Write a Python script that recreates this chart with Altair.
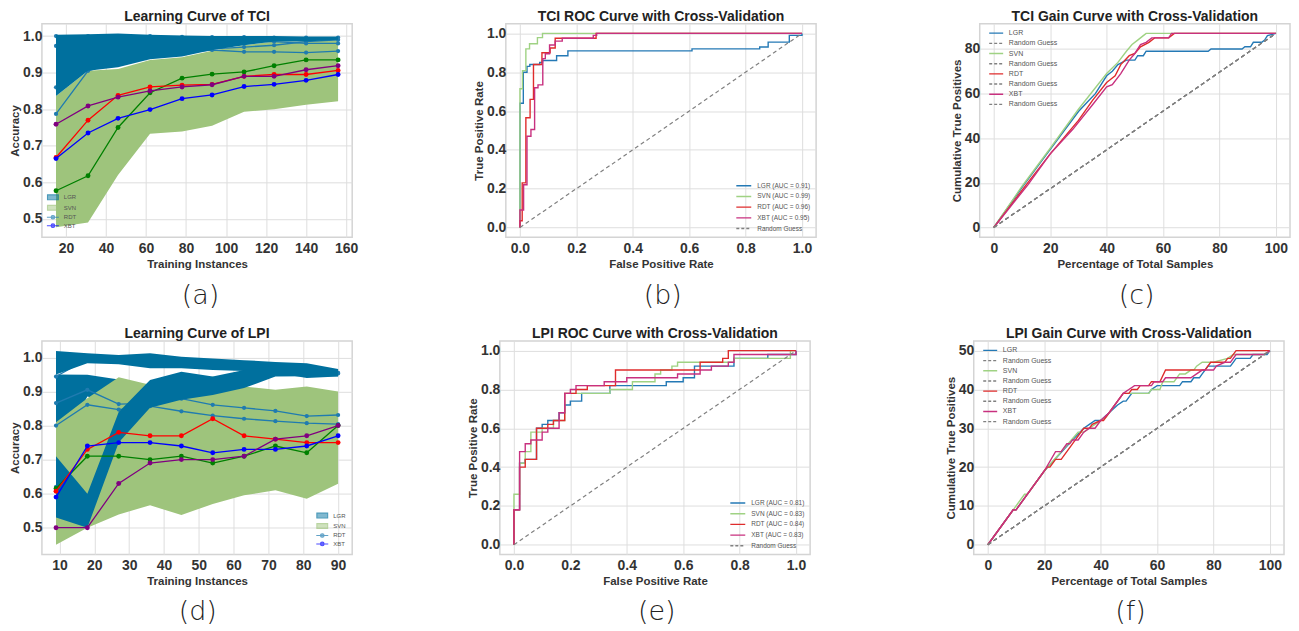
import altair as alt
import pandas as pd

FONT = "Liberation Sans"
CAP_FONT = "DejaVu Sans"

# ---------------- colours ----------------
BLUE_BAND = "#00709e"
GREEN_BAND = "#9ec47c"
TEAL = "#1f7bb0"
C_LGR = "#2479b5"
C_SVN = "#9fd283"
C_RDT = "#df2c2c"
C_XBT = "#c8307f"
GRAY = "#808080"

# ---------------- (a) Learning curve TCI ----------------
TCI_N = [15, 31, 46, 62, 78, 93, 109, 124, 140, 156]
TCI_GREEN_LO = [0.477, 0.49, 0.62, 0.733, 0.739, 0.755, 0.793, 0.80, 0.812, 0.822]
TCI_GREEN_HI = [0.836, 0.905, 0.91, 0.935, 0.942, 0.96, 0.975, 0.985, 0.985, 0.99]
TCI_BLUE_LO = [0.836, 0.905, 0.915, 0.937, 0.944, 0.962, 0.975, 0.985, 0.985, 0.99]
TCI_BLUE_HI = [1.004, 1.005, 1.007, 1.004, 1.002, 1.0, 1.0, 1.0, 0.999, 0.999]
TCI_T1 = [1.0, 1.0, 1.0, 1.0, 0.998, 0.997, 0.997, 0.996, 0.996, 0.996]
TCI_T2 = [0.973, 0.985, 0.99, 0.99, 0.99, 0.99, 0.985, 0.985, 0.98, 0.98]
TCI_T3 = [0.86, 0.93, 0.95, 0.96, 0.965, 0.965, 0.97, 0.975, 0.985, 0.99]
TCI_T4 = [0.787, 0.905, 0.93, 0.95, 0.955, 0.962, 0.957, 0.957, 0.955, 0.959]
TCI_V_GREEN = [0.577, 0.618, 0.750, 0.845, 0.885, 0.896, 0.902, 0.919, 0.935, 0.935]
TCI_V_RED = [0.668, 0.770, 0.838, 0.861, 0.866, 0.868, 0.890, 0.895, 0.895, 0.906]
TCI_V_PURPLE = [0.759, 0.809, 0.833, 0.850, 0.861, 0.867, 0.890, 0.890, 0.908, 0.919]
TCI_V_BLUE = [0.665, 0.735, 0.775, 0.799, 0.829, 0.839, 0.862, 0.868, 0.879, 0.895]

# ---------------- (d) Learning curve LPI ----------------
LPI_N = [9, 18, 27, 36, 45, 54, 63, 72, 81, 90]
LPI_GREEN_LO = [0.45, 0.50, 0.539, 0.566, 0.537, 0.57, 0.595, 0.61, 0.585, 0.629]
LPI_GREEN_HI = [0.81, 0.88, 0.942, 0.92, 0.91, 0.944, 0.915, 0.905, 0.915, 0.90]
LPI_C_N = [9, 18, 27]
LPI_C_LO = [0.71, 0.885, 0.862]
LPI_C_HI = [0.95, 0.949, 0.935]
LPI_TOP_LO = [0.95, 0.983, 0.98, 0.968, 0.968, 0.963, 0.96, 0.955, 0.94, 0.944]
LPI_TOP_HI = [1.019, 1.012, 1.007, 1.012, 1.002, 0.997, 0.992, 0.987, 0.983, 0.966]
LPI_A_LO = [0.53, 0.50, 0.75, 0.852, 0.876, 0.89, 0.91, 0.944, 0.945, 0.945]
LPI_A_HI = [0.71, 0.60, 0.84, 0.934, 0.958, 0.944, 0.963, 0.975, 0.975, 0.965]
LPI_T1 = [0.80, 0.861, 0.847, 0.857, 0.842, 0.829, 0.82, 0.813, 0.807, 0.804]
LPI_T2 = [0.866, 0.905, 0.863, 0.865, 0.879, 0.861, 0.852, 0.843, 0.828, 0.831]
LPI_T3 = [0.944, 0.995, 0.993, 0.99, 0.988, 0.985, 0.98, 0.975, 0.965, 0.953]
LPI_T4 = [0.62, 0.55, 0.795, 0.89, 0.915, 0.915, 0.932, 0.952, 0.96, 0.955]
LPI_V_GREEN = [0.615, 0.71, 0.71, 0.70, 0.71, 0.69, 0.71, 0.74, 0.72, 0.80]
LPI_V_RED = [0.607, 0.73, 0.78, 0.77, 0.77, 0.82, 0.77, 0.76, 0.75, 0.75]
LPI_V_BLUE = [0.59, 0.74, 0.75, 0.75, 0.74, 0.72, 0.73, 0.73, 0.74, 0.77]
LPI_V_PURPLE = [0.50, 0.50, 0.63, 0.69, 0.70, 0.70, 0.71, 0.76, 0.77, 0.80]

LC_LEGEND = ["LGR", "SVN", "RDT", "XBT"]

# ---------------- (b) ROC TCI (step corners) ----------------
B_LGR_F = [0, 0, 0.012, 0.025, 0.035, 0.07, 0.08, 0.13, 0.17, 0.61, 0.85, 0.88, 0.955, 1.0]
B_LGR_T = [0, 0.64, 0.80, 0.83, 0.84, 0.85, 0.86, 0.885, 0.91, 0.92, 0.93, 0.955, 0.99, 1.0]
B_SVN_F = [0, 0, 0.009, 0.021, 0.034, 0.062, 0.08, 1.0]
B_SVN_T = [0, 0.715, 0.808, 0.92, 0.947, 0.978, 1.0, 1.0]
B_RDT_F = [0, 0, 0.008, 0.021, 0.036, 0.048, 0.078, 0.107, 0.125, 0.27, 1.0]
B_RDT_T = [0, 0.035, 0.23, 0.565, 0.66, 0.84, 0.90, 0.925, 0.975, 1.0, 1.0]
B_XBT_F = [0, 0, 0.013, 0.025, 0.039, 0.052, 0.064, 0.081, 0.09, 0.105, 0.125, 0.15, 0.26, 0.272, 1.0]
B_XBT_T = [0, 0.09, 0.22, 0.47, 0.505, 0.72, 0.735, 0.87, 0.895, 0.94, 0.96, 0.975, 0.99, 1.0, 1.0]
B_NAMES = ["LGR (AUC = 0.91)", "SVN (AUC = 0.99)", "RDT (AUC = 0.96)", "XBT (AUC = 0.95)", "Random Guess"]

# ---------------- (e) ROC LPI ----------------
E_LGR_F = [0, 0, 0.02, 0.04, 0.08, 0.10, 0.12, 0.16, 0.18, 0.20, 0.24, 0.34, 0.54, 0.60, 0.64, 0.78, 0.90, 1.0]
E_LGR_T = [0, 0.18, 0.42, 0.44, 0.60, 0.62, 0.64, 0.68, 0.72, 0.74, 0.78, 0.82, 0.84, 0.86, 0.92, 0.96, 0.98, 1.0]
E_SVN_F = [0, 0, 0.02, 0.04, 0.06, 0.10, 0.14, 0.18, 0.34, 0.42, 0.50, 0.52, 0.56, 0.58, 0.78, 0.98, 1.0]
E_SVN_T = [0, 0.26, 0.42, 0.48, 0.58, 0.60, 0.64, 0.78, 0.80, 0.84, 0.88, 0.90, 0.92, 0.94, 0.96, 1.0, 1.0]
E_RDT_F = [0, 0, 0.02, 0.04, 0.08, 0.12, 0.14, 0.18, 0.22, 0.26, 0.36, 0.66, 0.74, 0.76, 1.0]
E_RDT_T = [0, 0.18, 0.40, 0.44, 0.60, 0.62, 0.64, 0.78, 0.80, 0.82, 0.90, 0.94, 0.96, 1.0, 1.0]
E_XBT_F = [0, 0, 0.02, 0.04, 0.06, 0.10, 0.12, 0.16, 0.18, 0.20, 0.22, 0.32, 0.40, 0.58, 0.66, 0.70, 0.76, 0.78, 1.0]
E_XBT_T = [0, 0.18, 0.48, 0.52, 0.54, 0.58, 0.60, 0.68, 0.78, 0.80, 0.82, 0.84, 0.86, 0.88, 0.90, 0.92, 0.94, 0.98, 1.0]
E_NAMES = ["LGR (AUC = 0.81)", "SVN (AUC = 0.83)", "RDT (AUC = 0.84)", "XBT (AUC = 0.83)", "Random Guess"]

DIAG_X = [0, 1]
DIAG_Y = [0, 1]

# ---------------- (c) Gain TCI ----------------
C_LGR_X = [0, 10, 20, 30, 33, 36, 40, 42, 44, 47, 50, 51, 53, 54, 76, 77, 88, 89, 91, 92, 95, 96, 97, 100]
C_LGR_Y = [0, 18, 35, 52, 56, 60, 68, 70, 73, 75, 75, 77, 77, 79, 79, 80, 80, 81, 81, 83, 83, 84, 86, 87]
C_SVN_X = [0, 10, 20, 30, 40, 44, 47, 49, 51, 53, 54, 100]
C_SVN_Y = [0, 18.5, 35.5, 53, 69, 74, 79, 82, 84, 86, 87, 87]
C_RDT_X = [0, 12, 20, 30, 35, 40, 41, 43, 45, 48, 50, 52, 55, 57, 62, 64, 100]
C_RDT_Y = [0, 20, 33, 48, 57, 65, 66, 68, 73, 77, 78, 81, 83, 85, 85, 87, 87]
C_XBT_X = [0, 12, 20, 28, 35, 40, 42, 45, 48, 50, 52, 54, 56, 62, 63, 100]
C_XBT_Y = [0, 19, 33, 44, 55, 63, 64, 69, 75, 78, 82, 83, 85, 85, 87, 87]
C_RAND_X = [0, 100]
C_RAND_Y = [0, 87]

# ---------------- (f) Gain LPI ----------------
F_LGR_X = [0, 9, 10, 13, 20, 30, 34, 36, 38, 40, 43, 46, 48, 49, 51, 57, 58, 60, 68, 69, 72, 73, 75, 76, 77, 78, 86, 87, 88, 93, 94, 99, 100]
F_LGR_Y = [0, 9, 9, 12, 19, 27, 30, 31, 32, 32, 34, 36, 37, 37, 39, 39, 40, 41, 41, 42, 42, 43, 43, 44, 45, 46, 46, 47, 48, 48, 49, 49, 50]
F_SVN_X = [0, 9, 13, 14, 20, 32, 34, 36, 38, 42, 48, 50, 57, 58, 61, 62, 66, 68, 70, 72, 73, 74, 76, 80, 85, 87, 98, 100]
F_SVN_Y = [0, 9, 13, 13, 19, 29, 29, 30, 31, 33, 39, 39, 39, 40, 40, 42, 42, 44, 44, 45, 45, 46, 47, 47, 48, 49, 49, 50]
F_RDT_X = [0, 9, 10, 20, 21, 22, 24, 26, 30, 34, 36, 37, 40, 41, 43, 48, 50, 51, 53, 54, 57, 58, 61, 63, 77, 79, 84, 85, 86, 88, 100]
F_RDT_Y = [0, 9, 9, 19, 20, 20, 22, 22, 26, 30, 30, 31, 32, 32, 34, 39, 39, 40, 40, 41, 41, 42, 42, 45, 45, 47, 47, 48, 48, 50, 50]
F_XBT_X = [0, 9, 10, 20, 24, 26, 28, 29, 30, 32, 34, 36, 38, 40, 43, 48, 50, 52, 58, 59, 62, 63, 72, 74, 76, 80, 81, 84, 86, 88, 98, 100]
F_XBT_Y = [0, 9, 9, 19, 24, 24, 26, 26, 27, 27, 29, 30, 30, 32, 34, 39, 40, 41, 41, 42, 42, 43, 43, 44, 45, 45, 46, 47, 47, 49, 49, 50]
F_RAND_X = [0, 100]
F_RAND_Y = [0, 50]

GAIN_NAMES = ["LGR", "Random Guess", "SVN", "Random Guess ", "RDT", "Random Guess  ", "XBT", "Random Guess   "]

W, H = 311, 214

RES_CH = ["color", "fill", "stroke", "shape", "strokeDash"]


def ind(c):
    kw = {k: "independent" for k in RES_CH}
    return c.resolve_scale(**kw).resolve_legend(**kw)


def lin_scale(dom):
    return alt.Scale(domain=dom, nice=False, zero=False)


def lc_panel(title, xs, xdom, xticks, ydom, bands_under, trains, bands_over, vals, orient, offset):
    xsc, ysc = lin_scale(xdom), lin_scale(ydom)
    xax = alt.Axis(values=xticks, format="d")
    yax = alt.Axis(values=[0.5, 0.6, 0.7, 0.8, 0.9, 1.0], format=".1f")
    X = alt.X("x:Q", scale=xsc, axis=xax, title="Training Instances")

    def band_layers(bands):
        out = []
        for bx, lo, hi, col in bands:
            df = pd.DataFrame({"x": bx, "lo": lo, "hi": hi})
            out.append(alt.Chart(df).mark_area(color=col, opacity=1, clip=True).encode(
                x=X, y=alt.Y("lo:Q", scale=ysc, axis=yax, title="Accuracy"), y2="hi:Q"))
        return out

    def line_layers(lines):
        out = []
        for ys, col, sz in lines:
            df = pd.DataFrame({"x": xs, "v": ys})
            out.append(alt.Chart(df).mark_line(
                color=col, strokeWidth=1.3, clip=True,
                point=alt.OverlayMarkDef(filled=True, size=sz, color=col, opacity=1)).encode(
                x=X, y=alt.Y("v:Q", scale=ysc, axis=yax, title="Accuracy")))
        return out

    layers = band_layers(bands_under) + line_layers(trains) + band_layers(bands_over) + line_layers(vals)
    rect = "M-1.8,-0.8H1.8V0.8H-1.8Z"
    lm = "M-2,0H2M-0.6,0A0.6,0.6,0,1,1,0.6,0A0.6,0.6,0,1,1,-0.6,0Z"
    cols = [BLUE_BAND, GREEN_BAND, TEAL, "#0000ff"]
    leg = alt.Legend(title=None, orient=orient, offset=offset, labelFont=FONT, labelFontSize=6,
                     labelColor="#555555", symbolSize=36, symbolStrokeWidth=1.1, rowPadding=0.5,
                     labelOffset=7, padding=0)
    ldf = pd.DataFrame({"k": LC_LEGEND})
    layers.append(alt.Chart(ldf).transform_filter("false").mark_point(filled=True).encode(
        shape=alt.Shape("k:N", scale=alt.Scale(domain=LC_LEGEND, range=[rect, rect, lm, lm]), legend=leg),
        fill=alt.Fill("k:N", scale=alt.Scale(domain=LC_LEGEND, range=cols), legend=leg),
        stroke=alt.Stroke("k:N", scale=alt.Scale(domain=LC_LEGEND, range=cols), legend=leg)))
    return alt.layer(*layers).properties(
        width=W, height=H, title=alt.TitleParams(title, anchor="middle", frame="group", offset=0))


def curve_panel(title, curves, cols, rand, names, lcols, ldash, xdom, ydom, xticks, yticks, fmt,
                xtitle, ytitle, interp, legpos, lsize, lpath, loff, rowpad, lfont):
    xsc, ysc = lin_scale(xdom), lin_scale(ydom)
    X = alt.X("x:Q", scale=xsc, axis=alt.Axis(values=xticks, format=fmt), title=xtitle)
    Y = alt.Y("y:Q", scale=ysc, axis=alt.Axis(values=yticks, format=fmt), title=ytitle)
    layers = []
    for (cx, cy), col in zip(curves, cols):
        df = pd.DataFrame({"x": cx, "y": cy, "i": list(range(len(cx)))})
        layers.append(alt.Chart(df).mark_line(color=col, strokeWidth=1.4, interpolate=interp, clip=True)
                      .encode(x=X, y=Y, order="i:Q"))
    for rx, ry in rand:
        df = pd.DataFrame({"x": rx, "y": ry, "i": list(range(len(rx)))})
        layers.append(alt.Chart(df).mark_line(color=GRAY, strokeWidth=1.2, strokeDash=[4, 3], clip=True)
                      .encode(x=X, y=Y, order="i:Q"))
    leg = alt.Legend(title=None, labelFont=FONT, labelFontSize=lfont,
                     labelColor="#555555", symbolType=lpath, symbolSize=lsize, symbolStrokeWidth=1.4,
                     rowPadding=rowpad, labelOffset=loff, padding=0, labelLimit=300, **legpos)
    ldf = pd.DataFrame({"k": names})
    layers.append(alt.Chart(ldf).transform_filter("false").mark_line().encode(
        color=alt.Color("k:N", scale=alt.Scale(domain=names, range=lcols), legend=leg),
        strokeDash=alt.StrokeDash("k:N", scale=alt.Scale(domain=names, range=ldash), legend=leg)))
    return alt.layer(*layers).properties(
        width=W, height=H, title=alt.TitleParams(title, anchor="middle", frame="group", offset=0))


def wrap(ch, cap, dx, off):
    return ind(alt.vconcat(ch, title=alt.TitleParams(
        cap, orient="bottom", anchor="middle", dx=dx, fontSize=27, font=CAP_FONT,
        fontWeight=200, color="#222222", offset=off)))


SOLID = [1, 0]
DASH = [3, 2]

pa = lc_panel("Learning Curve of TCI", TCI_N, [7.95, 163.05], [20, 40, 60, 80, 100, 120, 140, 160],
              [0.45, 1.034],
              [(TCI_N, TCI_GREEN_LO, TCI_GREEN_HI, GREEN_BAND)],
              [(TCI_T1, TEAL, 18), (TCI_T2, TEAL, 18), (TCI_T3, TEAL, 18), (TCI_T4, TEAL, 18)],
              [(TCI_N, TCI_BLUE_LO, TCI_BLUE_HI, BLUE_BAND)],
              [(TCI_V_GREEN, "#008000", 24), (TCI_V_RED, "#ff0000", 24),
               (TCI_V_PURPLE, "#800080", 24), (TCI_V_BLUE, "#0000ff", 24)],
              "bottom-left", 7)

pd_ = lc_panel("Learning Curve of LPI", LPI_N, [4.95, 94.05], [10, 20, 30, 40, 50, 60, 70, 80, 90],
               [0.4215, 1.0485],
               [(LPI_C_N, LPI_C_LO, LPI_C_HI, BLUE_BAND), (LPI_N, LPI_GREEN_LO, LPI_GREEN_HI, GREEN_BAND)],
               [(LPI_T1, TEAL, 18), (LPI_T2, TEAL, 18), (LPI_T3, TEAL, 18), (LPI_T4, TEAL, 18)],
               [(LPI_N, LPI_TOP_LO, LPI_TOP_HI, BLUE_BAND), (LPI_N, LPI_A_LO, LPI_A_HI, BLUE_BAND)],
               [(LPI_V_GREEN, "#008000", 24), (LPI_V_RED, "#ff0000", 24),
                (LPI_V_BLUE, "#0000ff", 24), (LPI_V_PURPLE, "#800080", 24)],
               "bottom-right", 6.5)

ROC_TICKS = [0, 0.2, 0.4, 0.6, 0.8, 1.0]
roc_cols = [C_LGR, C_SVN, C_RDT, C_XBT]
roc_lcols = roc_cols + [GRAY]
roc_dash = [SOLID, SOLID, SOLID, SOLID, DASH]
ROC_PATH = "M-2,0H2"
GAIN_PATH = "M-2,0H2"
ROC_LEG = {"orient": "bottom-right", "offset": 5}
GAIN_LEG = {"orient": "none", "legendX": 12, "legendY": 5}

pb = curve_panel("TCI ROC Curve with Cross-Validation",
                 [(B_LGR_F, B_LGR_T), (B_SVN_F, B_SVN_T), (B_RDT_F, B_RDT_T), (B_XBT_F, B_XBT_T)],
                 roc_cols, [(DIAG_X, DIAG_Y)], B_NAMES, roc_lcols, roc_dash,
                 [-0.05, 1.05], [-0.05, 1.05], ROC_TICKS, ROC_TICKS, ".1f",
                 "False Positive Rate", "True Positive Rate", "step-after", ROC_LEG,
                 56, ROC_PATH, 9, 2.7, 6.5)
pe = curve_panel("LPI ROC Curve with Cross-Validation",
                 [(E_LGR_F, E_LGR_T), (E_SVN_F, E_SVN_T), (E_RDT_F, E_RDT_T), (E_XBT_F, E_XBT_T)],
                 roc_cols, [(DIAG_X, DIAG_Y)], E_NAMES, roc_lcols, roc_dash,
                 [-0.05, 1.05], [-0.05, 1.05], ROC_TICKS, ROC_TICKS, ".1f",
                 "False Positive Rate", "True Positive Rate", "step-after", ROC_LEG,
                 56, ROC_PATH, 9, 2.7, 6.5)

gain_lcols = [C_LGR, GRAY, C_SVN, GRAY, C_RDT, GRAY, C_XBT, GRAY]
gain_dash = [SOLID, DASH, SOLID, DASH, SOLID, DASH, SOLID, DASH]
GX = [0, 20, 40, 60, 80, 100]

pc = curve_panel("TCI Gain Curve with Cross-Validation",
                 [(C_LGR_X, C_LGR_Y), (C_SVN_X, C_SVN_Y), (C_RDT_X, C_RDT_Y), (C_XBT_X, C_XBT_Y)],
                 roc_cols, [(C_RAND_X, C_RAND_Y)] * 4, GAIN_NAMES, gain_lcols, gain_dash,
                 [-5, 105], [-4.35, 91.35], GX, [0, 20, 40, 60, 80], "d",
                 "Percentage of Total Samples", "Cumulative True Positives", "linear", GAIN_LEG,
                 49, GAIN_PATH, 8.2, 2.2, 7)
pf = curve_panel("LPI Gain Curve with Cross-Validation",
                 [(F_LGR_X, F_LGR_Y), (F_SVN_X, F_SVN_Y), (F_RDT_X, F_RDT_Y), (F_XBT_X, F_XBT_Y)],
                 roc_cols, [(F_RAND_X, F_RAND_Y)] * 4, GAIN_NAMES, gain_lcols, gain_dash,
                 [-5, 105], [-2.5, 52.5], GX, [0, 10, 20, 30, 40, 50], "d",
                 "Percentage of Total Samples", "Cumulative True Positives", "linear", GAIN_LEG,
                 49, GAIN_PATH, 8.2, 2.2, 7)

row1 = ind(alt.hconcat(ind(alt.hconcat(wrap(pa, "(a)", 17, 13), wrap(pb, "(b)", 18, 13), spacing=113)),
                       wrap(pc, "(c)", 16, 13), spacing=133))
row2 = ind(alt.hconcat(ind(alt.hconcat(wrap(pd_, "(d)", 17, 11), wrap(pe, "(e)", 18, 11), spacing=113)),
                       wrap(pf, "(f)", 16, 11), spacing=133))

chart = ind(alt.vconcat(row1, row2, spacing=16)).properties(
    padding=0
).configure(
    font=FONT
).configure_view(
    stroke="#d4d4d4", strokeWidth=1.5, fill="white"
).configure_axis(
    grid=True, gridColor="#dedede", gridWidth=1, domain=False, ticks=False, tickSize=0,
    labelFont=FONT, labelFontSize=14, labelFontWeight="bold", labelColor="#333333",
    titleFont=FONT, titleFontSize=11.5, titleFontWeight="bold", titleColor="#333333"
).configure_axisX(
    labelPadding=4, titlePadding=3
).configure_axisY(
    labelPadding=0, titlePadding=2
).configure_title(
    font=FONT, fontSize=14, fontWeight="bold", color="#222222"
)

chart.save("out.html", embed_options={"renderer": "svg", "actions": False})
